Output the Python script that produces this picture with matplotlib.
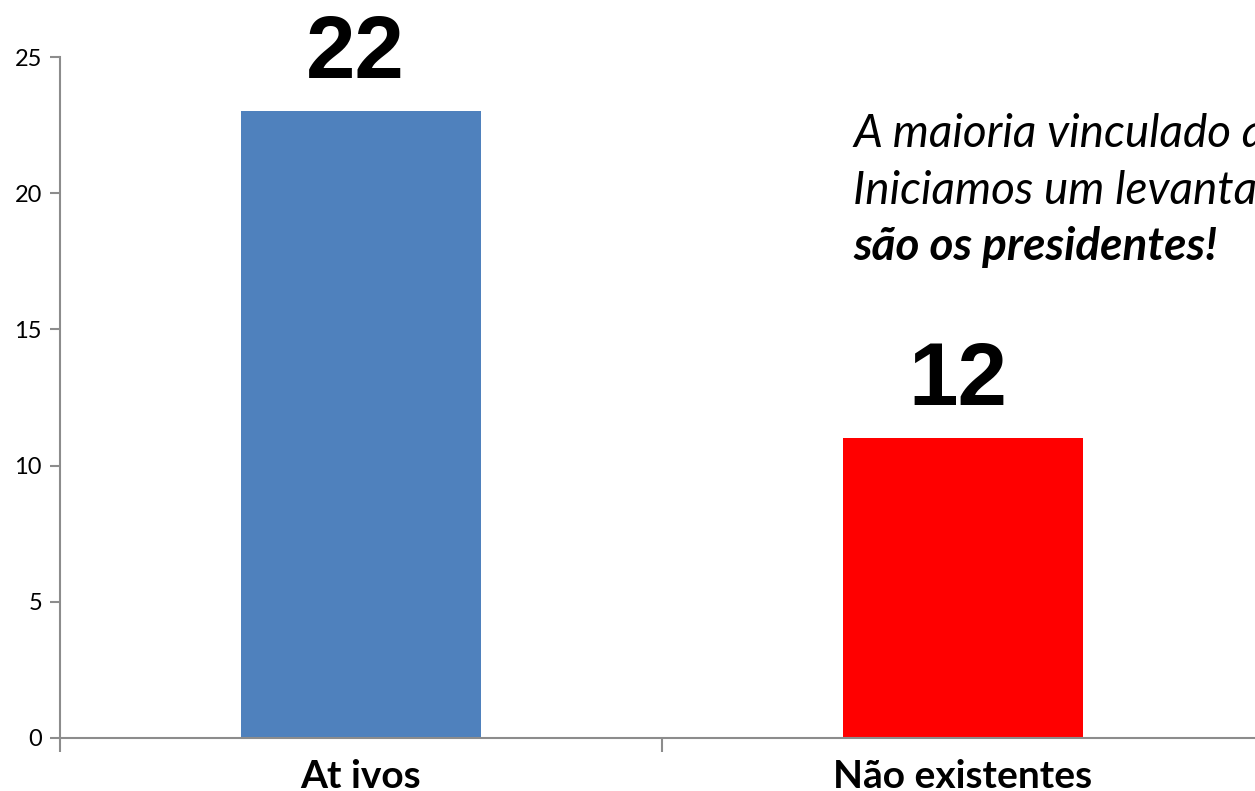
import matplotlib
matplotlib.use("Agg")
import matplotlib.pyplot as plt

categories = ["At ivos", "Não existentes"]
values = [23, 11]
value_labels = ["22", "12"]
bar_colors = ["#4F81BD", "#FF0000"]
y_ticks = [0, 5, 10, 15, 20, 25]
note_lines = ["A maioria vinculado a universidades.",
              "Iniciamos um levantamento de quem",
              "são os presidentes!"]

W, H = 1255, 791
fig = plt.figure(figsize=(W / 100, H / 100), dpi=100)
# axes run past the right edge, as in the reference
ax = fig.add_axes([60 / W, 1 - 738 / H, 1204 / W, (738 - 57) / H])

x = list(range(len(categories)))
ax.bar(x, values, width=0.4, color=bar_colors)
for xi, v, lab in zip(x, values, value_labels):
    ax.annotate(lab, (xi, v), xytext=(-4, 24), textcoords="offset points",
                ha="center", va="baseline", fontsize=64, fontweight="bold",
                family="Liberation Sans", annotation_clip=False)

ax.set_xlim(-0.5, len(categories) - 0.5)
ax.set_ylim(0, 25)
ax.set_yticks(y_ticks)
ax.set_yticklabels([str(t) for t in y_ticks], family="Lato", fontsize=17)
ax.set_xticks(x)
ax.set_xticklabels(categories, family="Lato", fontsize=28, fontweight="bold")
ax.set_xticks([-0.5, 0.5, 1.5], minor=True)

gray = "#8C8C8C"
for s in ("top", "right"):
    ax.spines[s].set_visible(False)
for s in ("left", "bottom"):
    ax.spines[s].set_color(gray)
    ax.spines[s].set_linewidth(1.5)
ax.tick_params(axis="y", length=7, width=1.5, color=gray, pad=6)
ax.tick_params(axis="x", which="major", length=0, pad=15)
ax.tick_params(axis="x", which="minor", length=10, width=1.5, color=gray)

# annotation text, one line at a time (clipped by the right edge like the reference)
baselines = [147, 204, 260]
for i, (line, yb) in enumerate(zip(note_lines, baselines)):
    fig.text(853 / W, 1 - yb / H, line, family="Lato", style="italic",
             fontweight="bold" if i == 2 else "normal", fontsize=33, va="baseline")

fig.savefig("out.png", dpi=100)
